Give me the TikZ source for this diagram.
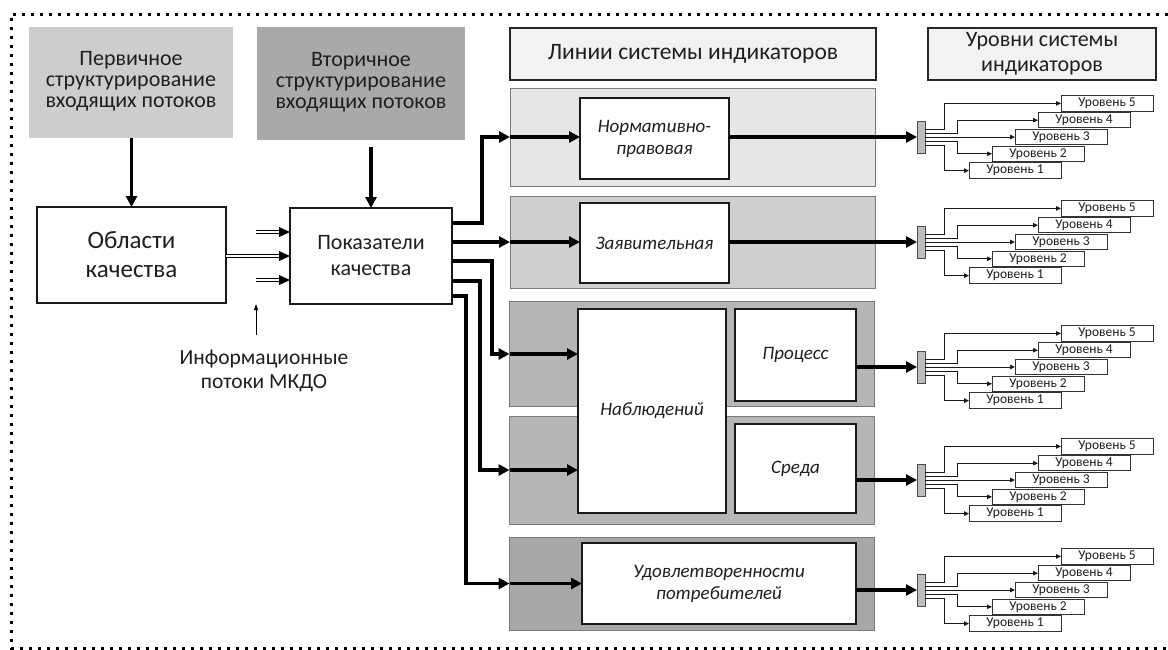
\documentclass[tikz,border=0pt]{standalone}
\usepackage{fontspec}
\setmainfont{Carlito}
\usetikzlibrary{arrows.meta,calc}
\definecolor{txt}{HTML}{1F1F1F}
\definecolor{primfill}{HTML}{CDCDCD}
\definecolor{secfill}{HTML}{A9A9A9}
\definecolor{titlefill}{HTML}{F2F2F2}
\definecolor{pone}{HTML}{E6E6E6}
\definecolor{ptwo}{HTML}{CFCFCF}
\definecolor{pthree}{HTML}{B6B6B6}
\definecolor{pfive}{HTML}{A7A7A7}
\definecolor{panelline}{HTML}{7A7A7A}
\definecolor{barfill}{HTML}{BDBDBD}
\newcommand{\levelfan}[2]{%
  \node[barbox] (#1b) at (921,#2) {};
  \foreach \k in {1,...,5}{%
    \node[lvlbox] (#1l\k) at ({1061+(\k-3)*23},{#2-(\k-3)*16.8}) {Уровень \k};
  }
  \draw[lvlarrow] ([yshift=8pt]#1b.east) -- ++(19,0) |- (#1l5.west);
  \draw[lvlarrow] ([yshift=4pt]#1b.east) -- ++(32,0) |- (#1l4.west);
  \draw[lvlarrow] (#1b.east) -- (#1l3.west);
  \draw[lvlarrow] ([yshift=-4pt]#1b.east) -- ++(32,0) |- (#1l2.west);
  \draw[lvlarrow] ([yshift=-8pt]#1b.east) -- ++(19,0) |- (#1l1.west);
}
\begin{document}
\begin{tikzpicture}[x=1pt,y=-1pt,
  every node/.style={inner sep=0pt, outer sep=0pt, text=txt},
  sizedbox/.style 2 args={minimum width=#1, minimum height=#2},
  topgray/.style={draw=none, align=center, font=\fontsize{22}{21}\selectfont},
  titlebox/.style={draw=black!85, line width=1.3pt, fill=titlefill, align=center, font=\fontsize{22}{25}\selectfont},
  mainbox/.style={draw=black!90, line width=1.3pt, fill=white, align=center},
  panelbox/.style={draw=panelline, line width=0.8pt},
  innerbox/.style={draw=black!90, line width=1.3pt, fill=white, align=center, font=\fontsize{19}{22}\selectfont\itshape},
  lvlbox/.style={draw=black!80, line width=1pt, fill=white, minimum width=92pt, minimum height=15.5pt, font=\fontsize{13.5}{14}\selectfont},
  barbox/.style={draw=black!70, line width=0.7pt, fill=barfill, minimum width=8pt, minimum height=32pt},
  lvlarrow/.style={line width=0.9pt, draw=black!90, -{Triangle[length=5pt,width=4.5pt]}},
  wire/.style={line width=3.3pt, draw=black, -{Triangle[length=11pt,width=11pt]}},
  dblline/.style={double, double distance=2pt, line width=0.9pt, draw=black, shorten >=10pt},
  thinarrow/.style={line width=0.8pt, draw=black, -{Triangle[length=6pt,width=4pt]}},
  border/.style={line width=3pt, dash pattern=on 3pt off 6pt, draw=black}
]
\useasboundingbox (0,0) rectangle (1168,649);
% dotted frame
\draw[border] (11,660) -- (11,14) -- (1180,14);
\draw[border] (11,648) -- (1180,648);

% top gray boxes
\node[topgray, fill=primfill, sizedbox={204pt}{111pt}, text height=53pt] (prim) at (131,82.5)
  {Первичное\\структурирование\\входящих потоков};
\node[topgray, fill=secfill, sizedbox={208pt}{113pt}, text height=53pt] (sec) at (361,83.5)
  {Вторичное\\структурирование\\входящих потоков};

% title boxes
\node[titlebox, sizedbox={366pt}{52pt}, font=\fontsize{23.5}{25}\selectfont] (linestitle) at (693,54) {Линии системы индикаторов};
\node[titlebox, sizedbox={228pt}{52pt}] (levelstitle) at (1042,54) {Уровни системы\\индикаторов};

% main boxes
\node[mainbox, sizedbox={189pt}{96pt}, font=\fontsize{25}{29}\selectfont] (areas) at (131.5,255) {Области\\качества};
\node[mainbox, sizedbox={162pt}{96pt}, font=\fontsize{22}{26}\selectfont] (ind) at (371,256) {Показатели\\качества};

\draw[wire] (prim.south -| areas.north) -- (areas.north);
\coordinate (secout) at (371,147);
\draw[wire] (secout) -- (secout |- ind.north);

% double arrows into indicators
\coordinate (d1) at (256,232);
\coordinate (d3) at (256,280);
\draw[dblline] (d1) -- (d1 -| ind.west);
\fill (d1 -| ind.west) -- ++(-11,-5) -- ++(0,10) -- cycle;
\draw[dblline] (areas.east |- ind.west) -- (ind.west);
\fill (ind.west) -- ++(-11,-5) -- ++(0,10) -- cycle;
\draw[dblline] (d3) -- (d3 -| ind.west);
\fill (d3 -| ind.west) -- ++(-11,-5) -- ++(0,10) -- cycle;

% info flows label
\node[align=center, font=\fontsize{21.5}{24}\selectfont] (info) at (264,371) {Информационные\\потоки МКДО};
\coordinate (infotop) at (256,335);
\draw[thinarrow] (infotop) -- (256,304);

% panels
\node[panelbox, fill=pone, sizedbox={365pt}{98pt}] (p1) at (692.5,137) {};
\node[panelbox, fill=ptwo, sizedbox={365pt}{92pt}] (p2) at (692.5,242) {};
\node[panelbox, fill=pthree, sizedbox={365pt}{105pt}] (p3) at (692,354) {};
\node[panelbox, fill=pthree, sizedbox={365pt}{108pt}] (p4) at (692,470) {};
\node[panelbox, fill=pfive, sizedbox={365pt}{93pt}] (p5) at (692,583.5) {};

% inner boxes
\node[innerbox, sizedbox={149pt}{81pt}] (norm) at (654.5,138.5) {Нормативно-\\правовая};
\node[innerbox, sizedbox={149pt}{80pt}] (zayav) at (654.5,243) {Заявительная};
\node[innerbox, sizedbox={148pt}{204pt}] (nabl) at (652,411) {Наблюдений};
\node[innerbox, sizedbox={121pt}{92pt}] (proc) at (795.5,355) {Процесс};
\node[innerbox, sizedbox={121pt}{89pt}] (sreda) at (795.5,468.5) {Среда};
\node[innerbox, sizedbox={274pt}{81pt}] (udov) at (719,583.5) {Удовлетворенности\\потребителей};

% wires from indicators
\coordinate (o1) at ([yshift=33pt]ind.east);
\coordinate (o2) at ([yshift=14pt]ind.east);
\coordinate (o3) at ([yshift=-5pt]ind.east);
\coordinate (o4) at ([yshift=-25pt]ind.east);
\coordinate (o5) at ([yshift=-40pt]ind.east);
\draw[wire] (o1) -- ++(30,0) |- (p1.west);
\draw[wire] (o2) -- (o2 -| p2.west);
\draw[wire] (o3) -- ++(40,0) |- (p3.west);
\draw[wire] (o4) -- ++(28,0) |- (p4.west);
\draw[wire] (o5) -- ++(14,0) |- (p5.west);

\draw[wire] (p1.west) -- (p1.west -| norm.west);
\draw[wire] (o2 -| p2.west) -- (o2 -| zayav.west);
\draw[wire] (p3.west) -- (p3.west -| nabl.west);
\draw[wire] (p4.west) -- (p4.west -| nabl.west);
\draw[wire] (p5.west) -- (p5.west -| udov.west);

% level fans
\levelfan{fa}{137}
\levelfan{fb}{242}
\levelfan{fc}{367}
\levelfan{fd}{480}
\levelfan{fe}{590}

\draw[wire] (norm.east |- fab.west) -- (fab.west);
\draw[wire] (zayav.east |- fbb.west) -- (fbb.west);
\draw[wire] (proc.east |- fcb.west) -- (fcb.west);
\draw[wire] (sreda.east |- fdb.west) -- (fdb.west);
\draw[wire] (udov.east |- feb.west) -- (feb.west);
\end{tikzpicture}
\end{document}
